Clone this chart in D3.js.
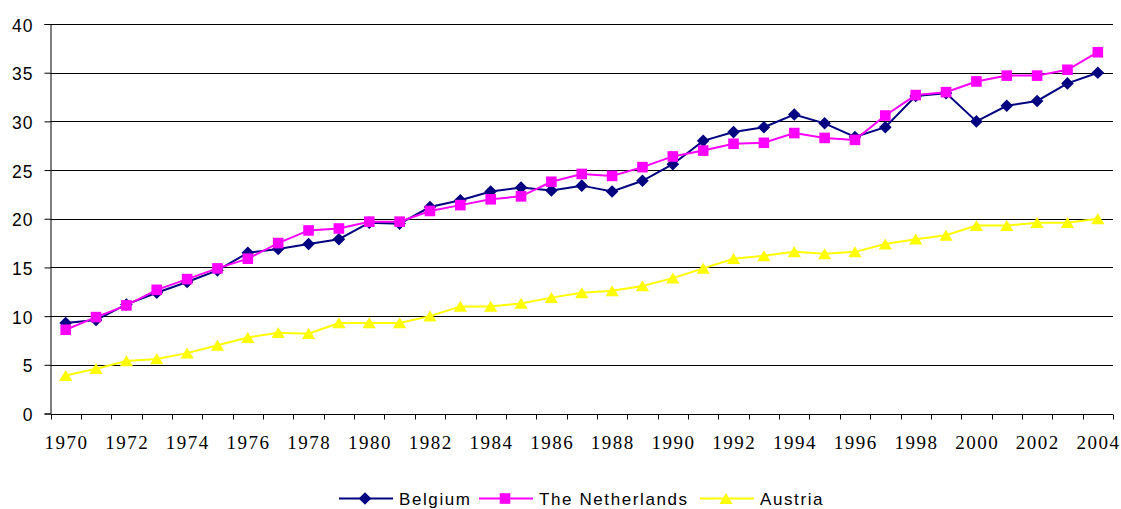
<!DOCTYPE html>
<html><head><meta charset="utf-8">
<script src="https://cdn.jsdelivr.net/npm/d3@7"></script>
<style>body{margin:0;background:#fff}svg{display:block}</style>
</head><body>
<svg id="c" width="1121" height="509"></svg>
<script>
const years = d3.range(1970, 2005);
const belgium = [9.3,9.6,11.2,12.4,13.5,14.7,16.5,16.9,17.4,17.9,19.6,19.5,21.2,21.9,22.8,23.2,22.9,23.4,22.8,23.9,25.6,28.0,28.9,29.4,30.7,29.8,28.4,29.4,32.6,32.9,30.0,31.6,32.1,33.9,35.0];
const netherlands = [8.6,9.9,11.1,12.7,13.8,14.9,15.9,17.5,18.8,19.0,19.7,19.7,20.8,21.4,22.0,22.3,23.8,24.6,24.4,25.3,26.4,27.0,27.7,27.8,28.8,28.3,28.1,30.6,32.7,33.0,34.1,34.7,34.7,35.3,37.1];
const austria = [3.9,4.6,5.4,5.6,6.2,7.0,7.8,8.3,8.2,9.3,9.3,9.3,10.0,11.0,11.0,11.3,11.9,12.4,12.6,13.1,13.9,14.9,15.9,16.2,16.6,16.4,16.6,17.4,17.9,18.3,19.3,19.3,19.6,19.6,20.0];
const yTicks = [0,5,10,15,20,25,30,35,40];
const xLabels = years.filter(y => y % 2 === 0);
const seriesNames = ["Belgium","The Netherlands","Austria"];
const seriesColors = ["#000080","#FF00FF","#FFFF00"];

// marker shapes (bounding-box centred)
const markerPaths = [
  "M0,-6.3L6.3,0L0,6.3L-6.3,0Z",      // diamond
  "M-5.3,-5.3H5.3V5.3H-5.3Z",          // square
  "M0,-5.6L6.6,5.4H-6.6Z"              // triangle
];

const svg = d3.select("#c");
const L = 50.5, R = 1113, T = 24, B = 413.5;
const x = d3.scaleBand().domain(years).range([L, R]);
const y = d3.scaleLinear().domain([0, 40]).range([B, T]);

// gridlines
svg.append("g").selectAll("line").data(yTicks.filter(d => d > 0)).join("line")
  .attr("x1", L).attr("x2", R).attr("y1", d => Math.round(y(d)) + 0.5).attr("y2", d => Math.round(y(d)) + 0.5)
  .attr("stroke", "#000").attr("stroke-width", 1);

// y axis
const ya = svg.append("g").attr("transform", `translate(${L},0)`)
  .call(d3.axisLeft(y).tickValues(yTicks).tickSize(6).tickPadding(10));
ya.select(".domain").attr("stroke", "#000");
ya.selectAll(".tick line").attr("stroke", "#000");
ya.selectAll("text").attr("font-family", "Liberation Sans, Arial, sans-serif").attr("font-size", 17.5)
  .attr("letter-spacing", 1).attr("dx", -1).attr("dy", "0.4em").attr("fill", "#000");

// x axis
const xg = svg.append("g").attr("transform", `translate(0,${Math.round(B)+0.5})`);
xg.append("line").attr("x1", L).attr("x2", R).attr("stroke", "#000");
xg.selectAll("line.tk").data(d3.range(years.length + 1)).join("line").attr("class","tk")
  .attr("x1", i => Math.round(L + i * x.step()) + 0.5).attr("x2", i => Math.round(L + i * x.step()) + 0.5)
  .attr("y1", 0).attr("y2", 5).attr("stroke", "#000");
xg.selectAll("text").data(xLabels).join("text")
  .attr("x", d => x(d) + x.bandwidth() / 2 + 0.75).attr("y", 34.5)
  .attr("text-anchor", "middle").attr("font-family", "Liberation Serif, Times New Roman, serif")
  .attr("font-size", 19).attr("letter-spacing", 1.5).attr("fill", "#000").text(d => d);

// series
const data = [belgium, netherlands, austria];
const cx = d => x(d) + x.bandwidth() / 2;
data.forEach((vals, i) => {
  const g = svg.append("g");
  g.append("path").datum(vals)
    .attr("d", d3.line().x((v, j) => cx(years[j])).y(v => y(v)))
    .attr("fill", "none").attr("stroke", seriesColors[i]).attr("stroke-width", 2);
  g.selectAll("path.m").data(vals).join("path").attr("class", "m")
    .attr("transform", (v, j) => `translate(${cx(years[j])},${y(v)})`)
    .attr("d", markerPaths[i])
    .attr("fill", seriesColors[i]);
});

// legend
const legX = [339, 479, 700];
const lg = svg.append("g").attr("transform", "translate(0,498.5)");
seriesNames.forEach((n, i) => {
  const g = lg.append("g").attr("transform", `translate(${legX[i]},0)`);
  g.append("line").attr("x1", 0).attr("x2", 54).attr("stroke", seriesColors[i]).attr("stroke-width", 2);
  g.append("path").attr("transform", `translate(26,0)`)
    .attr("d", markerPaths[i]).attr("fill", seriesColors[i]);
  g.append("text").attr("x", 60).attr("y", 6).attr("font-family", "Liberation Sans, Arial, sans-serif")
    .attr("font-size", 17).attr("letter-spacing", 1.6).attr("fill", "#000").text(n);
});
</script>
</body></html>
